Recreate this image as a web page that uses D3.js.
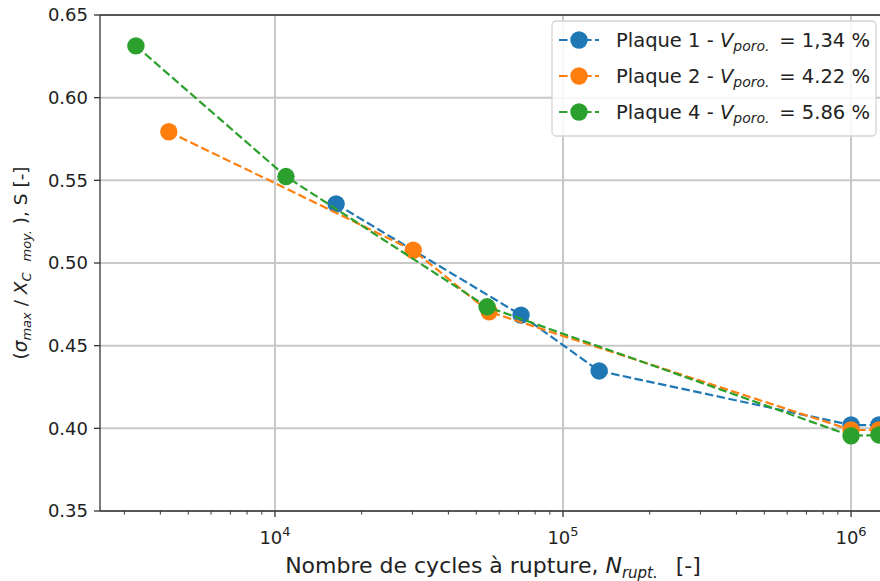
<!DOCTYPE html>
<html><head><meta charset="utf-8">
<script src="https://cdn.jsdelivr.net/npm/d3@7"></script>
<style>body{margin:0;background:#fff}svg{display:block;font-family:"DejaVu Sans",sans-serif}</style>
</head><body><svg id="c" width="880" height="581"></svg>
<script>
const seriesNames = ["Plaque 1", "Plaque 2", "Plaque 4"];
const seriesPoro = ["1,34", "4.22", "5.86"];
const colors = ["#1f77b4", "#ff7f0e", "#2ca02c"];
const cycles1 = [16300, 71500, 133500, 1000000, 1250000];
const stress1 = [0.5357, 0.4685, 0.4347, 0.4020, 0.4020];
const cycles2 = [4280, 30200, 55400, 1000000, 1250000];
const stress2 = [0.5794, 0.5077, 0.4705, 0.3990, 0.3990];
const cycles4 = [3290, 10920, 54500, 1000000, 1250000];
const stress4 = [0.6313, 0.5523, 0.4735, 0.3955, 0.3960];
const yTicks = [0.35, 0.40, 0.45, 0.50, 0.55, 0.60, 0.65];
const xTickExps = [4, 5, 6];

const series = [[cycles1, stress1], [cycles2, stress2], [cycles4, stress4]];
const svg = d3.select("#c");
const L = 100, T = 15, B = 511, R = 900;
const x = d3.scaleLog().domain([2469, 1479000]).range([L, R]);
const y = d3.scaleLinear().domain([0.35, 0.65]).range([B, T]);

const defs = svg.append("defs");
defs.append("clipPath").attr("id", "clip").append("rect").attr("x", L).attr("y", T).attr("width", R - L).attr("height", B - T);

// grid
const g = svg.append("g");
yTicks.forEach(v => g.append("line").attr("x1", L).attr("x2", R).attr("y1", y(v)).attr("y2", y(v)).attr("stroke", "#c8c8c8").attr("stroke-width", 2));
xTickExps.forEach(e => g.append("line").attr("x1", x(Math.pow(10, e))).attr("x2", x(Math.pow(10, e))).attr("y1", T).attr("y2", B).attr("stroke", "#c8c8c8").attr("stroke-width", 2));

// series
const plot = svg.append("g").attr("clip-path", "url(#clip)");
series.forEach((s, i) => {
  const pts = s[0].map((c, j) => [c, s[1][j]]);
  plot.append("path").attr("d", d3.line().x(d => x(d[0])).y(d => y(d[1]))(pts))
    .attr("fill", "none").attr("stroke", colors[i]).attr("stroke-width", 2.2).attr("stroke-dasharray", "8.5,3.5");
  plot.selectAll(null).data(pts).enter().append("circle")
    .attr("cx", d => x(d[0])).attr("cy", d => y(d[1])).attr("r", 8.7).attr("fill", colors[i]);
});

// axes
const ax = svg.append("g");
ax.append("line").attr("x1", L).attr("x2", R).attr("y1", B).attr("y2", B).attr("stroke", "#333").attr("stroke-width", 1.3);
ax.append("line").attr("x1", L).attr("x2", R).attr("y1", T).attr("y2", T).attr("stroke", "#333").attr("stroke-width", 1.3);
ax.append("line").attr("x1", L).attr("x2", L).attr("y1", T).attr("y2", B).attr("stroke", "#333").attr("stroke-width", 1.3);

yTicks.forEach(v => {
  ax.append("line").attr("x1", L - 6).attr("x2", L).attr("y1", y(v)).attr("y2", y(v)).attr("stroke", "#333").attr("stroke-width", 1.3);
  ax.append("text").attr("x", L - 12).attr("y", y(v)).attr("dy", "0.36em").attr("text-anchor", "end").attr("font-size", 18).attr("fill", "#222").text(v.toFixed(2));
});
// x ticks
x.ticks().forEach(v => {
  const e = Math.log10(v);
  const major = Math.abs(e - Math.round(e)) < 1e-9;
  ax.append("line").attr("x1", x(v)).attr("x2", x(v)).attr("y1", B).attr("y2", B + (major ? 6 : 3.5)).attr("stroke", "#333").attr("stroke-width", major ? 1.3 : 1);
});
xTickExps.forEach(e => {
  const t = ax.append("text").attr("x", x(Math.pow(10, e))).attr("y", B + 33).attr("text-anchor", "middle").attr("font-size", 18).attr("fill", "#222");
  t.append("tspan").text("10");
  t.append("tspan").attr("font-size", 13).attr("dy", -8).text(String(e));
});

// axis labels
const xl = svg.append("text").attr("x", 493).attr("y", 573).attr("text-anchor", "middle").attr("font-size", 22).attr("fill", "#222");
xl.append("tspan").text("Nombre de cycles à rupture, ");
xl.append("tspan").attr("font-style", "italic").text("N");
xl.append("tspan").attr("font-style", "italic").attr("font-size", 15).attr("dy", 5).text("rupt.");
xl.append("tspan").attr("dy", -5).text("\u2002 [-]");

const yl = svg.append("text").attr("transform", "translate(27,263) rotate(-90)").attr("text-anchor", "middle").attr("font-size", 18.5).attr("fill", "#222");
yl.append("tspan").text("(");
yl.append("tspan").attr("font-style", "italic").text("σ");
yl.append("tspan").attr("font-style", "italic").attr("font-size", 13).attr("dy", 4).text("max");
yl.append("tspan").attr("dy", -4).text(" / ");
yl.append("tspan").attr("font-style", "italic").text("X");
yl.append("tspan").attr("font-style", "italic").attr("font-size", 13).attr("dy", 4).text("C");
yl.append("tspan").attr("font-style", "italic").attr("font-size", 13).attr("dx", 11).text("moy.");
yl.append("tspan").attr("dy", -4).text(" ), S [-]");

// legend
const lg = svg.append("g");
lg.append("rect").attr("x", 552).attr("y", 21).attr("width", 324).attr("height", 115).attr("rx", 4)
  .attr("fill", "#fff").attr("fill-opacity", 0.85).attr("stroke", "#d4d4d4").attr("stroke-width", 1.3);
seriesNames.forEach((n, i) => {
  const yy = 40 + i * 36;
  lg.append("line").attr("x1", 559).attr("x2", 599).attr("y1", yy).attr("y2", yy).attr("stroke", colors[i]).attr("stroke-width", 2.2).attr("stroke-dasharray", "8.5,3.5");
  lg.append("circle").attr("cx", 579).attr("cy", yy).attr("r", 8.7).attr("fill", colors[i]);
  const t = lg.append("text").attr("x", 616).attr("y", yy).attr("dy", "0.36em").attr("font-size", 19.5).attr("fill", "#222");
  t.append("tspan").text(n + " - ");
  t.append("tspan").attr("font-style", "italic").text("V");
  t.append("tspan").attr("font-style", "italic").attr("font-size", 14).attr("dy", 4).text("poro.");
  t.append("tspan").attr("dy", -4).text("\u2002= " + seriesPoro[i] + " %");
});
</script></body></html>
